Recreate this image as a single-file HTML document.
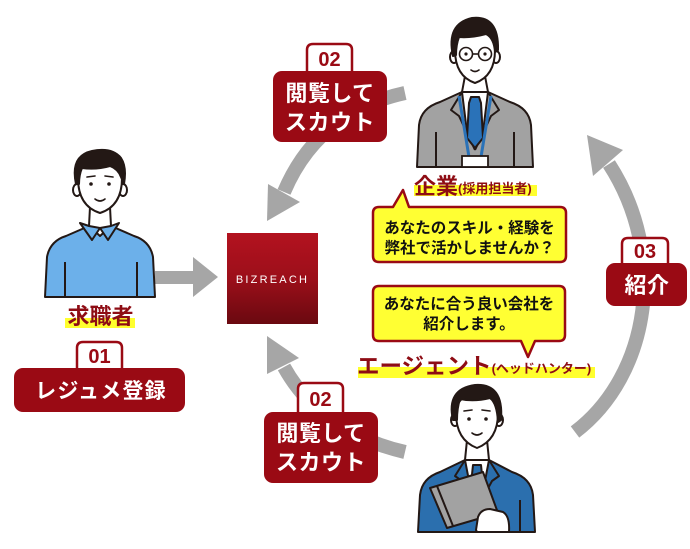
<!DOCTYPE html>
<html>
<head>
<meta charset="utf-8">
<style>
html,body{margin:0;padding:0;background:#fff;}
svg{display:block;}
text{font-family:"Liberation Sans","Noto Sans CJK JP",sans-serif;font-weight:bold;}
</style>
</head>
<body>
<svg width="690" height="549" viewBox="0 0 690 549" xmlns="http://www.w3.org/2000/svg">
  <rect width="690" height="549" fill="#fff"/>

  <!-- ===== Gray arrows ===== -->
  <g fill="#a6a6a6">
    <rect x="155" y="271" width="39" height="13"/>
    <polygon points="193,257 218,277 193,297"/>
    <polygon points="268,184 300,202 267,221"/>
    <polygon points="267,336 299,358 267,374"/>
    <polygon points="587,135 623,150 593,176"/>
  </g>
  <g fill="none" stroke="#a6a6a6" stroke-width="14">
    <path d="M405,93 Q318,112 284,192"/>
    <path d="M405,452 Q320,432 284,367"/>
    <path d="M575,432 C650,375 668,255 609,164"/>
  </g>

  <!-- ===== BIZREACH box ===== -->
  <defs>
    <linearGradient id="bz" x1="0" y1="0" x2="0" y2="1">
      <stop offset="0" stop-color="#b3121f"/>
      <stop offset="0.5" stop-color="#9c0f1a"/>
      <stop offset="1" stop-color="#6a0910"/>
    </linearGradient>
  </defs>
  <rect x="227" y="233" width="91" height="91" fill="url(#bz)"/>
  <text x="272.5" y="283" font-size="11" fill="#fff" text-anchor="middle" letter-spacing="2.2" style="font-weight:normal">BIZREACH</text>

  <!-- ===== Person 1 (job seeker) ===== -->
  <g stroke="#231815" stroke-width="2" stroke-linejoin="round">
    <path d="M45,297 L47,257 Q50,241 66,236 L89,226 L111,226 L134,236 Q150,241 153,257 L155,297 Z" fill="#6cb0ea"/>
    <path d="M90,207 L110,207 L111,226 L100,236 L89,226 Z" fill="#fff"/>
    <path d="M80,223 L92,240 L100,228 L108,240 L119,223 L111,226 L100,228 L89,226 Z" fill="#6cb0ea"/>
    <ellipse cx="77" cy="190" rx="4" ry="6" fill="#fff"/>
    <ellipse cx="123" cy="190" rx="4" ry="6" fill="#fff"/>
    <path d="M78,178 Q78,206 100,213 Q122,206 122,178 Q122,160 100,160 Q78,160 78,178 Z" fill="#fff"/>
    <path d="M76,184 Q70,156 92,151 Q112,147 121,158 Q127,167 124,184 L121,177 Q118,169 110,166 Q96,170 82,168 Q79,175 79,184 Z" fill="#231815"/>
    <line x1="65" y1="262" x2="65" y2="297" fill="none"/>
    <line x1="137" y1="262" x2="137" y2="297" fill="none"/>
  </g>
  <g fill="#231815">
    <circle cx="91" cy="184" r="1.8"/>
    <circle cx="109" cy="184" r="1.8"/>
  </g>
  <g fill="none" stroke="#231815" stroke-width="1.6" stroke-linecap="round">
    <line x1="87" y1="177" x2="95" y2="176"/>
    <line x1="105" y1="176" x2="113" y2="177"/>
    <path d="M95,199 Q100,203 105,199"/>
  </g>

  <!-- ===== Person 2 (company) ===== -->
  <g stroke="#231815" stroke-width="2" stroke-linejoin="round">
    <path d="M417,167 L419,125 Q421,108 440,102 L462,92 L488,92 L510,102 Q529,108 531,125 L533,167 Z" fill="#a2a2a2"/>
    <path d="M465,76 L485,76 L488,92 L475,102 L462,92 Z" fill="#fff"/>
    <path d="M462,92 L488,92 L483,132 L475,145 L467,132 Z" fill="#fff"/>
    <path d="M462,92 L451,110 L459,116 L475,150" fill="none"/>
    <path d="M488,92 L499,110 L491,116 L475,150" fill="none"/>
    <path d="M471,97 L479,97 L481,103 L483,138 L475,148 L467,138 L469,103 Z" fill="#2a72b8"/>
    <line x1="436" y1="132" x2="436" y2="167" fill="none"/>
    <line x1="514" y1="132" x2="514" y2="167" fill="none"/>
    <ellipse cx="454" cy="57" rx="4" ry="6" fill="#fff"/>
    <ellipse cx="496" cy="57" rx="4" ry="6" fill="#fff"/>
    <path d="M455,50 Q455,76 475,83 Q495,76 495,50 Q495,30 475,30 Q455,30 455,50 Z" fill="#fff"/>
    <path d="M453,56 Q446,24 472,18 Q499,15 498,50 L495,52 Q494,38 486,34 Q471,38 459,37 Q456,45 456,55 Z" fill="#231815"/>
  </g>
  <g fill="none" stroke="#2a72b8" stroke-width="3">
    <line x1="459" y1="96" x2="469" y2="157"/>
    <line x1="491" y1="96" x2="481" y2="157"/>
  </g>
  <rect x="462" y="156" width="26" height="11" fill="#fff" stroke="#231815" stroke-width="1.8"/>
  <g fill="none" stroke="#231815" stroke-width="1.6">
    <circle cx="466" cy="54" r="6.5"/>
    <circle cx="485" cy="54" r="6.5"/>
    <line x1="472.5" y1="54" x2="478.5" y2="54"/>
    <path d="M471,70 Q475,73 479,70" stroke-linecap="round"/>
  </g>
  <g fill="#231815">
    <circle cx="466" cy="54" r="1.6"/>
    <circle cx="485" cy="54" r="1.6"/>
  </g>

  <!-- ===== Person 3 (agent) ===== -->
  <g stroke="#231815" stroke-width="2" stroke-linejoin="round">
    <path d="M418,532 L420,495 Q422,478 440,472 L465,460 L489,460 L512,472 Q531,478 533,495 L535,532 Z" fill="#2b6fae"/>
    <path d="M467,440 L487,440 L489,460 L477,470 L465,460 Z" fill="#fff"/>
    <path d="M465,460 L489,460 L484,486 L477,492 L470,486 Z" fill="#fff"/>
    <path d="M465,460 L455,476 L462,481 L475,505" fill="none"/>
    <path d="M489,460 L499,476 L492,481 L479,505" fill="none"/>
    <path d="M473,465 L481,465 L483,484 L477,494 L471,484 Z" fill="#2b6fae"/>
    <ellipse cx="455" cy="420" rx="4" ry="6" fill="#fff"/>
    <ellipse cx="499" cy="420" rx="4" ry="6" fill="#fff"/>
    <path d="M456,413 Q456,440 477,448 Q498,440 498,413 Q498,395 477,395 Q456,395 456,413 Z" fill="#fff"/>
    <path d="M453,420 Q446,389 475,385 Q504,383 501,420 L498,422 Q497,403 490,398 Q474,402 460,399 Q457,408 457,420 Z" fill="#231815"/>
    <polygon points="430,488 483,472 498,513 447,528" fill="#a2a2a2"/>
    <line x1="437" y1="486" x2="453" y2="526" fill="none"/>
    <path d="M476,530 L478,517 Q481,509 490,509 L503,512 Q510,516 509,532 L477,532 Z" fill="#fff"/>
    <line x1="520" y1="500" x2="520" y2="532" fill="none"/>
  </g>
  <g fill="#231815">
    <circle cx="469" cy="419" r="1.8"/>
    <circle cx="486" cy="419" r="1.8"/>
  </g>
  <g fill="none" stroke="#231815" stroke-width="1.6" stroke-linecap="round">
    <line x1="464" y1="411" x2="472" y2="410"/>
    <line x1="482" y1="410" x2="490" y2="411"/>
    <path d="M472,433 Q477,437 482,433"/>
  </g>

  <!-- ===== Red label boxes ===== -->
  <g fill="#fff" stroke="#9a0a14" stroke-width="2.5">
    <path d="M307,73 L307,50 Q307,44 313,44 L346,44 Q352,44 352,50 L352,73 Z"/>
    <path d="M298,414 L298,389 Q298,383 304,383 L337,383 Q343,383 343,389 L343,414 Z"/>
    <path d="M77,370 L77,348 Q77,342 83,342 L116,342 Q122,342 122,348 L122,370 Z"/>
    <path d="M622,265 L622,244 Q622,238 628,238 L662,238 Q668,238 668,244 L668,265 Z"/>
  </g>
  <g fill="#9a0a14">
    <rect x="273" y="71" width="114" height="71" rx="9"/>
    <rect x="264" y="412" width="114" height="71" rx="9"/>
    <rect x="14" y="368" width="171" height="44" rx="9"/>
    <rect x="606" y="263" width="81" height="43" rx="9"/>
  </g>
  <g fill="#9a0a14" text-anchor="middle" font-size="20">
    <text x="329.5" y="66">02</text>
    <text x="320.5" y="406">02</text>
    <text x="99.5" y="363">01</text>
    <text x="645" y="258">03</text>
  </g>
  <g fill="#fff" text-anchor="middle">
    <text x="330" y="101" font-size="22" letter-spacing="0.5">閲覧して</text>
    <text x="330" y="130" font-size="22" letter-spacing="0.5">スカウト</text>
    <text x="321" y="441" font-size="22" letter-spacing="0.5">閲覧して</text>
    <text x="321" y="470" font-size="22" letter-spacing="0.5">スカウト</text>
    <text x="101" y="398" font-size="21" letter-spacing="1.2">レジュメ登録</text>
    <text x="647" y="293" font-size="22" letter-spacing="0.5">紹介</text>
  </g>

  <!-- ===== Name labels with highlight ===== -->
  <g fill="#ffff2e">
    <rect x="65" y="318" width="70" height="10"/>
    <rect x="414" y="185" width="123" height="11"/>
    <rect x="358" y="367" width="237" height="11"/>
  </g>
  <g fill="#8e0c14">
    <text x="100.5" y="324" font-size="22" text-anchor="middle">求職者</text>
    <text x="414" y="194" font-size="22">企業<tspan font-size="13" dy="-1">(採用担当者)</tspan></text>
    <text x="357" y="374" font-size="22.5">エージェント<tspan font-size="13" dy="-1">(ヘッドハンター)</tspan></text>
  </g>

  <!-- ===== Speech bubbles ===== -->
  <g fill="#ffff33" stroke="#9a0a14" stroke-width="2.5" stroke-linejoin="round">
    <path d="M379,207 L393,207 L403,190 L409,207 L560,207 Q566,207 566,213 L566,256 Q566,262 560,262 L379,262 Q373,262 373,256 L373,213 Q373,207 379,207 Z"/>
    <path d="M379,286 L559,286 Q565,286 565,292 L565,335 Q565,341 559,341 L535,341 L528,357 L521,341 L379,341 Q373,341 373,335 L373,292 Q373,286 379,286 Z"/>
  </g>
  <g fill="#111" text-anchor="middle" font-size="15.5">
    <text x="469.5" y="233">あなたのスキル・経験を</text>
    <text x="469.5" y="253">弊社で活かしませんか？</text>
    <text x="469" y="309">あなたに合う良い会社を</text>
    <text x="469" y="329">紹介します。</text>
  </g>
</svg>
</body>
</html>
